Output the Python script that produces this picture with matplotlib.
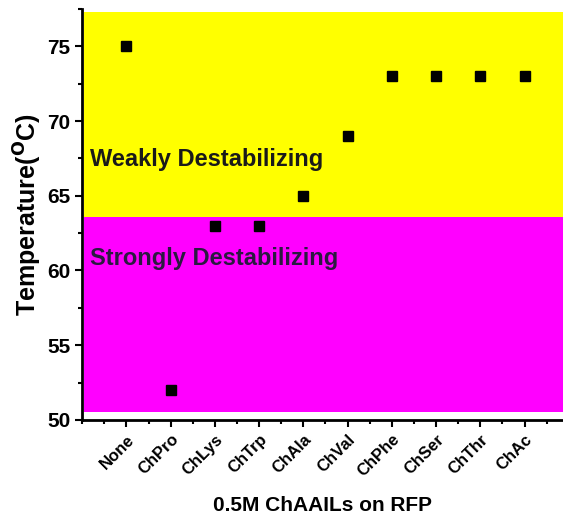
import matplotlib.pyplot as plt
from matplotlib.ticker import MultipleLocator

plt.rcParams['font.family'] = ['Liberation Sans', 'DejaVu Sans']

ils = ['None', 'ChPro', 'ChLys', 'ChTrp', 'ChAla', 'ChVal',
       'ChPhe', 'ChSer', 'ChThr', 'ChAc']
temps = [75, 52, 63, 63, 65, 69, 73, 73, 73, 73]

# shaded bands: (bottom, top, colour)
weak_band = (63.6, 77.3, '#ffff00')
strong_band = (50.5, 63.6, '#ff00ff')

fig = plt.figure(figsize=(5.63, 5.23), dpi=100)
ax = fig.add_axes([0.146, 0.197, 0.854, 0.786])

x = list(range(len(ils)))
for lo, hi, col in (weak_band, strong_band):
    ax.fill_between([-0.95, 10.5], lo, hi, color=col, lw=0, zorder=0)

ax.plot(x, temps, 's', color='black', ms=7, zorder=3)

ax.text(-0.82, 67.4, 'Weakly Destabilizing', fontsize=17, fontweight='bold',
        color='#1a1a1a', va='center')
ax.text(-0.82, 60.8, 'Strongly Destabilizing', fontsize=17, fontweight='bold',
        color='#2a1a40', va='center')

ax.set_xlim(-1, 9.87)
ax.set_ylim(50, 77.5)
ax.set_xticks(x)
ax.set_xticklabels(ils, rotation=45, ha='right', rotation_mode='anchor',
                   fontsize=12, fontweight='bold')
ax.xaxis.set_minor_locator(MultipleLocator(0.5))
ax.yaxis.set_major_locator(MultipleLocator(5))
ax.yaxis.set_minor_locator(MultipleLocator(2.5))
for lbl in ax.get_yticklabels():
    lbl.set_fontweight('bold')
    lbl.set_fontsize(15)

ax.tick_params(which='major', length=5, width=1.5)
ax.tick_params(which='minor', length=3, width=1.5)
ax.spines['top'].set_visible(False)
ax.spines['right'].set_visible(False)
ax.spines['left'].set_linewidth(2)
ax.spines['bottom'].set_linewidth(2)

ax.set_ylabel(r'Temperature($\mathbf{^{O}}$C)', fontsize=18, fontweight='bold',
              labelpad=2)
ax.set_xlabel('0.5M ChAAILs on RFP', fontsize=15, fontweight='bold',
              labelpad=12)

fig.savefig('out.png', dpi=100)
